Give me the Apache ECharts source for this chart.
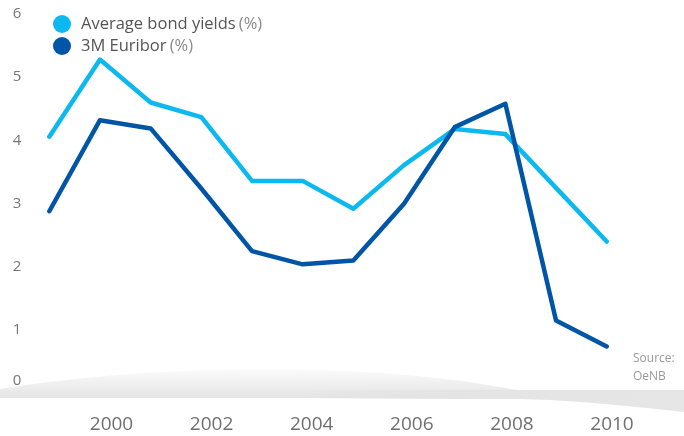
<!DOCTYPE html>
<html>
<head>
<meta charset="utf-8">
<script src="https://cdn.jsdelivr.net/npm/echarts@6/dist/echarts.min.js"></script>
<style>
  html, body { margin: 0; padding: 0; background: #fff; }
  #chart { width: 684px; height: 436px; }
</style>
</head>
<body>
<div id="chart"></div>
<script>
const years = ["1999", "2000", "2001", "2002", "2003", "2004", "2005", "2006", "2007", "2008", "2009", "2010"];
const bondYields = [4.06, 5.28, 4.6, 4.37, 3.36, 3.36, 2.92, 3.61, 4.18, 4.1, 3.25, 2.4];
const euribor = [2.88, 4.32, 4.19, 3.24, 2.25, 2.04, 2.1, 3.0, 4.21, 4.58, 1.15, 0.74];
const xTickLabels = ["2000", "2002", "2004", "2006", "2008", "2010"];

const chart = echarts.init(document.getElementById("chart"));
const font = "'Open Sans', 'Noto Sans', sans-serif";

// points along a cubic bezier, for the grey swoosh decoration
function bezier(p0, p1, p2, p3, n) {
  const pts = [];
  for (let i = 0; i <= n; i++) {
    const t = i / n, u = 1 - t;
    pts.push([
      u * u * u * p0[0] + 3 * u * u * t * p1[0] + 3 * u * t * t * p2[0] + t * t * t * p3[0],
      u * u * u * p0[1] + 3 * u * u * t * p1[1] + 3 * u * t * t * p2[1] + t * t * t * p3[1]
    ]);
  }
  return pts;
}

const swooshTop = [[0, 398]].concat(bezier([0, 389], [150, 364], [380, 360], [530, 393], 40), [[530, 398]]);
const swooshRight = [[300, 390], [684, 390], [684, 412]].concat(
  bezier([684, 412], [620, 405], [570, 400], [520, 399], 20), [[300, 399]]);

const option = {
  animation: false,
  textStyle: { fontFamily: font },
  title: {
    text: "Source:\nOeNB",
    left: 633,
    top: 350,
    padding: 0,
    textStyle: { fontSize: 12, fontWeight: "normal", color: "#999", lineHeight: 18, fontFamily: font }
  },
  legend: {
    orient: "vertical",
    left: 48,
    top: 10,
    icon: "circle",
    itemWidth: 18,
    itemHeight: 18,
    itemGap: 4,
    formatter: (name) => "{a|" + name.replace(" (%)", "") + "} {b|(%)}",
    textStyle: {
      padding: [0, 0, 0, 5],
      rich: {
        a: { fontSize: 16.5, color: "#555", fontFamily: font, lineHeight: 18 },
        b: { fontSize: 16.5, color: "#8a8a8a", fontFamily: font, lineHeight: 18 }
      }
    }
  },
  grid: [
    { left: 49.3, right: 77.3, top: 14, bottom: 42.7 },
    { left: 111.5, right: 72, top: 14, bottom: 42.7 }
  ],
  xAxis: [
    {
      type: "category",
      gridIndex: 0,
      data: years,
      boundaryGap: false,
      axisLine: { show: false },
      axisTick: { show: false },
      axisLabel: { show: false },
      splitLine: { show: false }
    },
    {
      type: "category",
      gridIndex: 1,
      data: xTickLabels,
      boundaryGap: false,
      axisLine: { show: false },
      axisTick: { show: false },
      splitLine: { show: false },
      axisLabel: { margin: 22, fontSize: 19, color: "#707070", fontFamily: font, interval: 0 }
    }
  ],
  yAxis: [
    {
      type: "value",
      gridIndex: 0,
      min: 0,
      max: 6,
      interval: 1,
      axisLine: { show: false },
      axisTick: { show: false },
      splitLine: { show: false },
      axisLabel: {
        margin: 28,
        fontSize: 15,
        color: "#777",
        fontFamily: font,
        formatter: (v) => (v === 0 ? "{z|0}" : String(v)),
        rich: { z: { fontSize: 15, color: "#777", fontFamily: font, padding: [0, 0, 26, 0] } }
      }
    },
    {
      type: "value",
      gridIndex: 1,
      min: 0,
      max: 6,
      show: false
    }
  ],
  graphic: [
    {
      type: "polygon",
      z: -1,
      shape: { points: swooshTop },
      style: {
        fill: {
          type: "linear", x: 0, y: 0, x2: 0, y2: 1,
          colorStops: [
            { offset: 0, color: "#fbfbfb" },
            { offset: 1, color: "#e4e4e4" }
          ]
        }
      }
    },
    {
      type: "polygon",
      z: -1,
      shape: { points: swooshRight },
      style: {
        fill: {
          type: "linear", x: 0, y: 0, x2: 1, y2: 0,
          colorStops: [
            { offset: 0, color: "rgba(226,226,226,0)" },
            { offset: 0.4, color: "#e4e4e4" },
            { offset: 1, color: "#e6e6e6" }
          ]
        }
      }
    }
  ],
  series: [
    {
      name: "Average bond yields (%)",
      type: "line",
      xAxisIndex: 0,
      yAxisIndex: 0,
      data: bondYields,
      symbol: "none",
      color: "#0bb9f0",
      lineStyle: { width: 4.5, color: "#0bb9f0", cap: "round", join: "round" }
    },
    {
      name: "3M Euribor (%)",
      type: "line",
      xAxisIndex: 0,
      yAxisIndex: 0,
      data: euribor,
      symbol: "none",
      color: "#0055a6",
      lineStyle: { width: 4.5, color: "#0055a6", cap: "round", join: "round" }
    }
  ]
};

chart.setOption(option);
</script>
</body>
</html>
